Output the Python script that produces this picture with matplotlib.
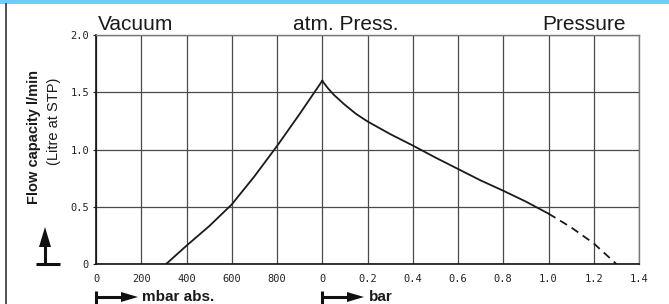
import matplotlib
matplotlib.use("Agg")
import matplotlib.pyplot as plt
from matplotlib.lines import Line2D
from matplotlib.patches import Polygon, Rectangle

# ---- data ----
vac_mbar = [310, 400, 500, 600, 700, 800, 900, 1000]
vac_flow = [0.0, 0.16, 0.33, 0.52, 0.765, 1.03, 1.31, 1.6]

prs_bar = [0.0, 0.025, 0.05, 0.1, 0.15, 0.2, 0.3, 0.4, 0.5, 0.6, 0.7, 0.8, 0.9, 1.0]
prs_flow = [1.6, 1.535, 1.48, 1.39, 1.31, 1.245, 1.135, 1.035, 0.93, 0.83, 0.73, 0.64, 0.545, 0.44]

ext_bar = [1.0, 1.1, 1.2, 1.3]
ext_flow = [0.44, 0.32, 0.18, 0.0]

x_tick_labels = ["0", "200", "400", "600", "800", "0", "0.2", "0.4", "0.6", "0.8", "1.0", "1.2", "1.4"]
y_ticks = [0, 0.5, 1.0, 1.5, 2.0]
y_tick_labels = ["0", "0.5", "1.0", "1.5", "2.0"]

# unified horizontal coordinate: vacuum side in 200 mbar cells, pressure side in 0.2 bar cells
def u_vac(m):
    return [v / 200.0 for v in m]

def u_prs(b):
    return [5 + v / 0.2 for v in b]

W, H = 669, 304
fig = plt.figure(figsize=(W / 100, H / 100), dpi=100)
fig.patch.set_facecolor("white")

L, R, T, B = 96, 639, 35, 264
ax = fig.add_axes([L / W, 1 - B / H, (R - L) / W, (B - T) / H])
ax.set_xlim(0, 12)
ax.set_ylim(0, 2)
ax.set_xticks(range(13))
ax.set_xticklabels(x_tick_labels, family="DejaVu Sans Mono", fontsize=7.5)
ax.set_yticks(y_ticks)
ax.set_yticklabels(y_tick_labels, family="DejaVu Sans Mono", fontsize=7.5)
ax.tick_params(axis="x", length=0, pad=7, colors="#222222")
ax.tick_params(axis="y", length=2, pad=3, colors="#222222")
ax.grid(True, color="#4a4a4a", lw=0.9)
ax.set_axisbelow(True)
for s in ["left", "bottom"]:
    ax.spines[s].set_color("#111111")
    ax.spines[s].set_linewidth(1.2)
for s in ["top", "right"]:
    ax.spines[s].set_color("#777777")
    ax.spines[s].set_linewidth(1.0)

ax.plot(u_vac(vac_mbar), vac_flow, color="#1a1a1a", lw=1.3, solid_joinstyle="round")
ax.plot(u_prs(prs_bar), prs_flow, color="#1a1a1a", lw=1.3, solid_joinstyle="round")
ax.plot(u_prs(ext_bar), ext_flow, color="#1a1a1a", lw=1.3, dashes=(4.5, 3))

# overlay in pixel coordinates for annotations
ov = fig.add_axes([0, 0, 1, 1], facecolor="none")
ov.set_xlim(0, W)
ov.set_ylim(H, 0)
ov.axis("off")

ov.add_patch(Rectangle((0, 0), W, 3.5, color="#6dcff6", lw=0))
ov.add_line(Line2D([6, 6], [3.5, H], color="#333333", lw=1.2))

sans = "Liberation Sans"
ov.text(98, 30, "Vacuum", family=sans, fontsize=15, va="baseline", ha="left", color="#1a1a1a")
ov.text(346, 30, "atm. Press.", family=sans, fontsize=15, va="baseline", ha="center", color="#1a1a1a")
ov.text(626, 30, "Pressure", family=sans, fontsize=15, va="baseline", ha="right", color="#1a1a1a")

ov.text(34, 137, "Flow capacity l/min", family=sans, fontsize=10.5, fontweight="bold",
        rotation=90, ha="center", va="center", color="#1a1a1a")
ov.text(54, 121, "(Litre at STP)", family=sans, fontsize=10.5,
        rotation=90, ha="center", va="center", color="#1a1a1a")

ov.text(142, 297, "mbar abs.", family=sans, fontsize=11, fontweight="bold", ha="left", va="center", color="#1a1a1a")
ov.text(369, 297, "bar", family=sans, fontsize=11, fontweight="bold", ha="left", va="center", color="#1a1a1a")

def h_arrow(x0, y, x1):
    ov.add_line(Line2D([x0, x0], [y - 6.5, y + 6.5], color="#111111", lw=2.2, solid_capstyle="butt"))
    ov.add_line(Line2D([x0, x1 - 14], [y, y], color="#111111", lw=2.2, solid_capstyle="butt"))
    ov.add_patch(Polygon([[x1 - 17, y - 5], [x1, y], [x1 - 17, y + 5]], closed=True, color="#111111", lw=0))

h_arrow(96, 297, 138)
h_arrow(322, 297, 364)

# vertical arrow near y label
ov.add_line(Line2D([36, 60], [264, 264], color="#111111", lw=2.2, solid_capstyle="butt"))
ov.add_line(Line2D([45, 45], [264, 244], color="#111111", lw=2.2, solid_capstyle="butt"))
ov.add_patch(Polygon([[39, 247], [45, 227], [51, 247]], closed=True, color="#111111", lw=0))

fig.savefig("out.png", dpi=100)
